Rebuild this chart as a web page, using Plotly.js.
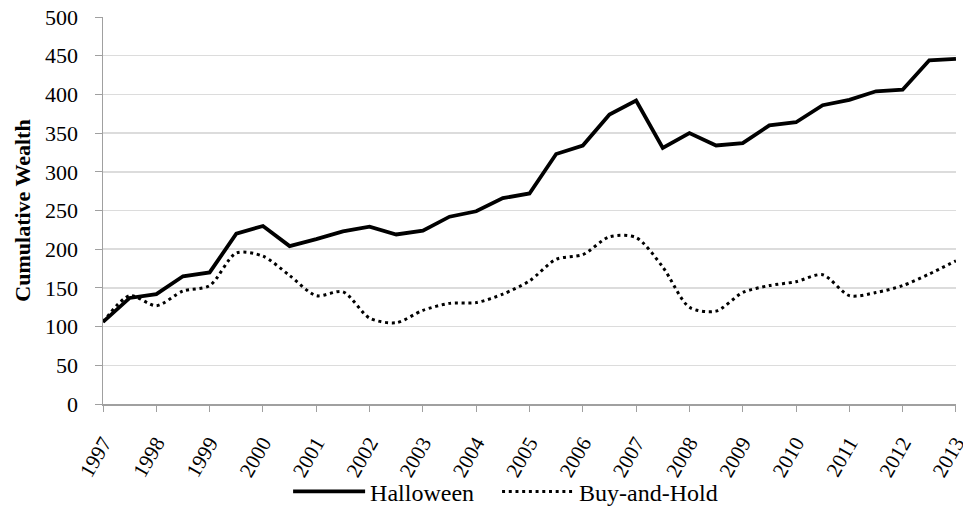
<!DOCTYPE html>
<html>
<head>
<meta charset="utf-8">
<script src="https://cdn.plot.ly/plotly-3.0.1.min.js"></script>
<style>html,body{margin:0;padding:0;background:#fff;}#chart{width:963px;height:506px;}</style>
</head>
<body>
<div id="chart"></div>
<script>
var periods = [1997,1997.5,1998,1998.5,1999,1999.5,2000,2000.5,2001,2001.5,2002,2002.5,2003,2003.5,2004,2004.5,2005,2005.5,2006,2006.5,2007,2007.5,2008,2008.5,2009,2009.5,2010,2010.5,2011,2011.5,2012,2012.5,2013];
var halloween = [106,137,142,165,170,220,230,204,213,223,229,219,224,242,249,266,272,323,334,374,392,331,350,334,337,360,364,386,393,404,406,444,446];
var buyAndHold = [106,140,127,146,153,195,191,166,140,145,111,105,121,130,131,142,159,187,193,216,215,177,125,120,144,153,158,167,140,144,153,168,185];
var yearTicks = [1997,1998,1999,2000,2001,2002,2003,2004,2005,2006,2007,2008,2009,2010,2011,2012,2013];
var yearLabels = yearTicks.map(String);

var serif = 'Liberation Serif, Times New Roman, serif';

var traces = [
  {x: periods, y: halloween, name: 'Halloween\u00a0\u00a0\u00a0', type: 'scatter', mode: 'lines',
   line: {color: '#000', width: 3.8}},
  {x: periods, y: buyAndHold, name: 'Buy-and-Hold', type: 'scatter', mode: 'lines',
   line: {color: '#000', width: 3, dash: '3px,3.7px', shape: 'spline', smoothing: 0.8}}
];

var layout = {
  width: 963, height: 506,
  margin: {l: 103, r: 7, t: 17, b: 101.5},
  paper_bgcolor: '#fff', plot_bgcolor: '#fff',
  font: {family: serif, size: 21, color: '#000'},
  showlegend: true,
  legend: {orientation: 'h', xref: 'paper', yref: 'container', x: 0.217, xanchor: 'left',
           y: 0.028, yanchor: 'middle', font: {family: serif, size: 24}, bgcolor: 'rgba(0,0,0,0)',
           itemwidth: 72, traceorder: 'normal'},
  xaxis: {range: [1996.999, 2013.001], tickvals: yearTicks, ticktext: yearLabels, tickangle: -60,
          showgrid: false, zeroline: false, showline: true, linecolor: '#a0a0a0', linewidth: 1.5,
          ticks: 'outside', ticklen: 6, tickcolor: '#a0a0a0', ticklabeloverflow: 'allow',
          ticklabelstandoff: 11, tickfont: {family: serif, size: 21}},
  yaxis: {range: [0, 500], dtick: 50, showgrid: true, gridcolor: '#dcdcdc', gridwidth: 1.5,
          zeroline: false, showline: true, linecolor: '#a0a0a0', linewidth: 1.5,
          ticks: 'outside', ticklen: 7, tickcolor: '#a0a0a0', ticklabelstandoff: 12,
          tickfont: {family: serif, size: 22},
          title: {text: '<b>Cumulative Wealth</b>', font: {family: serif, size: 22}, standoff: 8}}
};

Plotly.newPlot('chart', traces, layout, {displayModeBar: false, staticPlot: true});
</script>
</body>
</html>
